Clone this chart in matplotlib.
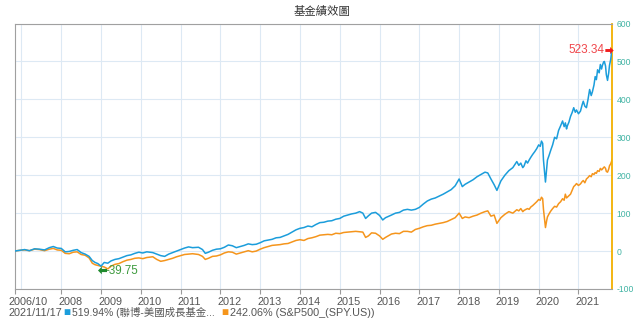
import numpy as np
import matplotlib
matplotlib.use("Agg")
import matplotlib.pyplot as plt
from matplotlib.path import Path
from matplotlib.transforms import offset_copy, ScaledTranslation

# cumulative return (%) since 2006/10, fund vs. S&P500
dates = [2006.83, 2006.95, 2007.08, 2007.2, 2007.33, 2007.45, 2007.58, 2007.7, 2007.8, 2007.9,
         2008.0, 2008.1, 2008.2, 2008.3, 2008.4, 2008.5, 2008.6, 2008.7, 2008.78, 2008.85,
         2008.92, 2009.0, 2009.08, 2009.17, 2009.25, 2009.35, 2009.45, 2009.55, 2009.65, 2009.75,
         2009.85, 2009.95, 2010.05, 2010.15, 2010.3, 2010.4, 2010.5, 2010.6, 2010.7, 2010.8,
         2010.9, 2011.0, 2011.1, 2011.2, 2011.3, 2011.45, 2011.55, 2011.62, 2011.7, 2011.8,
         2011.9, 2012.0, 2012.1, 2012.2, 2012.3, 2012.4, 2012.5, 2012.6, 2012.7, 2012.8,
         2012.9, 2013.0, 2013.1, 2013.2, 2013.3, 2013.4, 2013.5, 2013.6, 2013.7, 2013.8,
         2013.9, 2014.0, 2014.1, 2014.2, 2014.3, 2014.4, 2014.5, 2014.6, 2014.7, 2014.8,
         2014.9, 2015.0, 2015.1, 2015.2, 2015.3, 2015.4, 2015.5, 2015.58, 2015.65, 2015.72,
         2015.8, 2015.9, 2016.0, 2016.08, 2016.15, 2016.3, 2016.4, 2016.5, 2016.6, 2016.7,
         2016.8, 2016.9, 2017.0, 2017.1, 2017.2, 2017.3, 2017.4, 2017.5, 2017.6, 2017.7,
         2017.8, 2017.9, 2018.0, 2018.08, 2018.15, 2018.25, 2018.35, 2018.45, 2018.55, 2018.65,
         2018.72, 2018.8, 2018.88, 2018.95, 2019.05, 2019.15, 2019.25, 2019.35,
         2019.45, 2019.5, 2019.55, 2019.6, 2019.63, 2019.68, 2019.72, 2019.76, 2019.8, 2019.85,
         2019.9, 2019.95, 2020.0, 2020.04, 2020.07, 2020.1, 2020.12, 2020.15, 2020.17, 2020.2,
         2020.22, 2020.26, 2020.3, 2020.35, 2020.4, 2020.45, 2020.5, 2020.55, 2020.6, 2020.64,
         2020.67, 2020.7, 2020.72, 2020.76, 2020.8, 2020.84, 2020.88, 2020.92, 2020.95, 2021.0,
         2021.05, 2021.09, 2021.12, 2021.16, 2021.2, 2021.24, 2021.28, 2021.32, 2021.35, 2021.39,
         2021.42, 2021.45, 2021.48, 2021.52, 2021.55, 2021.58, 2021.6, 2021.63, 2021.65, 2021.68,
         2021.7, 2021.73, 2021.76, 2021.78, 2021.81, 2021.83, 2021.85]

fund = [0, 2, 4, 1, 6, 5, 3, 9, 12, 8,
        7, -2, -1, 2, 4, -4, -8, -14, -25, -30,
        -33, -39.75, -30, -32, -26, -22, -20, -16, -12, -10,
        -6, -3, -5, -2, -4, -8, -12, -14, -8, -4,
        0, 4, 8, 11, 9, 10, 4, -6, -3, 2,
        5, 6, 10, 16, 14, 9, 12, 15, 19, 17,
        18, 22, 27, 29, 31, 35, 36, 40, 44, 50,
        56, 60, 62, 66, 64, 70, 75, 76, 79, 80,
        84, 86, 92, 95, 98, 100, 104, 100, 86, 93,
        100, 102, 94, 82, 88, 95, 100, 102, 108, 110,
        108, 110, 115, 124, 132, 137, 140, 145, 150, 156,
        162, 172, 190, 170, 176, 182, 188, 196, 202, 208,
        206, 190, 175, 160, 185, 200, 212, 220,
        236, 226, 232, 220, 224, 238, 232, 240, 247, 255,
        262, 270, 280, 276, 290, 284, 240, 205, 182, 215,
        240, 252, 265, 280, 300, 296, 318, 330, 343, 328,
        338, 322, 330, 340, 355, 365, 378, 366, 372, 362,
        369, 385, 395, 382, 378, 400, 426, 410, 420, 438,
        460, 452, 478, 470, 492, 480, 489, 498, 500, 488,
        465, 450, 470, 490, 505, 523.34, 519.94]

spy = [0, 2, 3, 1, 5, 4, 1, 5, 7, 3,
       2, -6, -7, -3, -2, -9, -11, -18, -32, -36,
       -38, -40, -42, -47, -40, -35, -33, -28, -24, -22,
       -19, -18, -20, -17, -15, -22, -27, -25, -22, -19,
       -15, -12, -9, -8, -7, -9, -14, -22, -19, -14,
       -13, -10, -5, -2, -3, -8, -5, -2, 1, -2,
       0, 5, 9, 12, 15, 16, 17, 19, 20, 24,
       28, 30, 28, 33, 35, 38, 42, 43, 44, 43,
       47, 46, 49, 50, 51, 52, 51, 50, 36, 40,
       48, 47, 40, 31, 36, 45, 47, 46, 52, 52,
       50, 57, 60, 64, 67, 68, 71, 73, 75, 78,
       83, 88, 100, 86, 90, 88, 92, 95, 100, 104,
       106, 92, 95, 73, 88, 97, 104, 100,
       109, 106, 112, 104, 107, 110, 112, 110, 116, 120,
       125, 130, 136, 134, 142, 138, 110, 80, 62, 80,
       90, 98, 105, 112, 118, 116, 125, 130, 138, 134,
       150, 140, 142, 146, 150, 160, 170, 174, 178, 173,
       177, 183, 186, 180, 190, 194, 199, 196, 204, 202,
       207, 205, 212, 210, 218, 214, 216, 220, 222, 218,
       210, 208, 216, 225, 230, 236, 242.06]

tick_pos = [2006.83, 2008, 2009, 2010, 2011, 2012, 2013, 2014, 2015, 2016, 2017, 2018, 2019, 2020, 2021]
tick_lbl = ["2006/10", "2008", "2009", "2010", "2011", "2012", "2013", "2014", "2015", "2016",
            "2017", "2018", "2019", "2020", "2021"]
grid_years = np.arange(2007, 2022)
y_ticks = np.arange(-100, 601, 100)

fund_name = "519.94% (聯博-美國成長基金..."
spy_name = "242.06% (S&P500_(SPY.US))"
last_day = "2021/11/17"

FONT = ["Liberation Sans", "Noto Sans CJK TC"]
plt.rcParams["font.family"] = FONT

BLUE = "#1b9ddb"
ORANGE = "#f5951c"
GRID = "#dde9f4"

fig = plt.figure(figsize=(6.4, 3.22), dpi=100)
W, H = 640, 322
ax = fig.add_axes([14.7 / W, 1 - 289 / H, (612.3 - 14.7) / W, (289 - 23.5) / H])

for yr in grid_years:
    ax.axvline(yr, color=GRID, lw=0.8, zorder=0)
for v in y_ticks:
    ax.axhline(v, color=GRID, lw=0.8, zorder=0)

ax.plot(dates, spy, color=ORANGE, lw=1.1, zorder=2)
ax.plot(dates, fund, color=BLUE, lw=1.1, zorder=3)

ax.set_xlim(2006.83, 2021.85)
ax.set_ylim(-100, 600)

# right-side value axis
ax.yaxis.tick_right()
ax.set_yticks(y_ticks)
ax.set_yticklabels([str(v) for v in y_ticks])
ax.tick_params(axis="y", length=0, pad=3, labelsize=6.2, labelcolor="#3fb3a3")

ax.set_xticks(tick_pos)
ax.set_xticklabels(tick_lbl)
ax.tick_params(axis="x", length=3.5, width=0.8, color="#9a9a9a", pad=2,
               labelsize=7.8, labelcolor="#555555")
for i, lab in enumerate(ax.get_xticklabels()):
    lab.set_ha("left")
    dx = -6.5 if i == 0 else -3
    lab.set_transform(lab.get_transform() + ScaledTranslation(dx / 100, 0, fig.dpi_scale_trans))

for side in ["left", "top", "bottom"]:
    ax.spines[side].set_color("#a0a0a0")
    ax.spines[side].set_linewidth(0.8)
ax.spines["right"].set_color("#f2b000")
ax.spines["right"].set_linewidth(1.3)

# arrow marker used for the max / min flags
arrow = Path([(-1, -0.35), (0.15, -0.35), (0.15, -0.85), (1, 0), (0.15, 0.85), (0.15, 0.35),
              (-1, 0.35), (-1, -0.35)],
             [Path.MOVETO] + [Path.LINETO] * 6 + [Path.CLOSEPOLY])
arrow_left = Path(-arrow.vertices, arrow.codes)

i_max = int(np.argmax(fund))
i_min = int(np.argmin(fund))

tr = offset_copy(ax.transData, fig=fig, x=-3, y=2.5, units="dots")
ax.plot(dates[i_max], fund[i_max], marker=arrow, ms=6, color="#f01e1e", mew=0,
        transform=tr, zorder=5, clip_on=False)
tr = offset_copy(ax.transData, fig=fig, x=-7.5, y=2.5, units="dots")
ax.text(dates[i_max], fund[i_max], f"{fund[i_max]:.2f}", color="#f0464b", fontsize=8.5,
        ha="right", va="center", transform=tr, zorder=5)

tr = offset_copy(ax.transData, fig=fig, x=1, y=-4, units="dots")
ax.plot(dates[i_min], fund[i_min], marker=arrow_left, ms=6.5, color="#1f8a2e", mew=0,
        transform=tr, zorder=6, clip_on=False)
tr = offset_copy(ax.transData, fig=fig, x=4.5, y=-4.5, units="dots")
ax.text(dates[i_min], fund[i_min], f"{fund[i_min]:.2f}", color="#3d9a3d", fontsize=8.4,
        ha="left", va="center", transform=tr, zorder=5)

fig.text(322 / W, 1 - 11 / H, "基金績效圖", ha="center", va="center", fontsize=8.2,
         color="#333333")

# legend line under the axis
ly = 1 - 313 / H
fig.text(8.2 / W, ly, last_day, ha="left", va="center", fontsize=7.8, color="#555555")
fig.text(63.5 / W, ly, "■", ha="left", va="center", fontsize=8.5, color=BLUE)
fig.text(72 / W, ly, fund_name, ha="left", va="center", fontsize=7.5, color="#555555")
fig.text(221 / W, ly, "■", ha="left", va="center", fontsize=8.5, color=ORANGE)
fig.text(229.5 / W, ly, spy_name, ha="left", va="center", fontsize=7.8, color="#555555")

fig.savefig("out.png", dpi=100)
